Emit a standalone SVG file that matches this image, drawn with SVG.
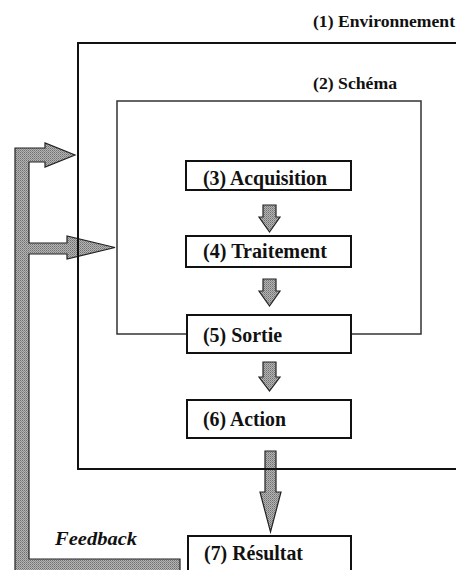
<svg xmlns="http://www.w3.org/2000/svg" width="456" height="570" viewBox="0 0 456 570">
<style>
text{font-family:'Liberation Serif','Times New Roman','DejaVu Serif',serif;font-weight:bold;fill:#111}
.box{fill:#fff;stroke:#111;stroke-width:2}
.arr{fill:url(#dots);stroke:#222;stroke-width:1.2}
</style>
<defs>
<pattern id="dots" width="2" height="2" patternUnits="userSpaceOnUse">
<rect width="2" height="2" fill="#b4b4b4"/>
<rect width="1" height="1" fill="#707070"/>
<rect x="1" y="1" width="1" height="1" fill="#8a8a8a"/>
</pattern>
</defs>
<rect width="456" height="570" fill="#fff"/>
<g id="connectors">
<polygon class="arr" points="15,148 45,148 45,143 75,155 45,167 45,162 29,162 29,243 67,243 67,236 115,247.5 67,259 67,254 29,254 29,559 180,559 180,574 15,574"/>
<polygon class="arr" points="263,205 276,205 276,217 280,217 269.5,232 259,217 263,217"/>
<polygon class="arr" points="263,279 276,279 276,291 280,291 269.5,306 259,291 263,291"/>
<polygon class="arr" points="263,362 276,362 276,377 280,377 269.5,391 259,377 263,377"/>
<polygon class="arr" points="265,451 276,451 276,492 281,492 270.5,532 260,492 265,492"/>
</g>
<g id="environnement">
<rect x="78" y="43" width="390" height="426" fill="none" stroke="#111" stroke-width="2"/>
<text x="313" y="27" font-family="Liberation Serif, serif" font-size="17.5" textLength="142" lengthAdjust="spacingAndGlyphs">(1) Environnement</text>
</g>
<g id="schema">
<rect x="117" y="101" width="304" height="233" fill="none" stroke="#333" stroke-width="1.5"/>
<text x="313" y="89" font-family="Liberation Serif, serif" font-size="17.5" textLength="84" lengthAdjust="spacingAndGlyphs">(2) Schéma</text>
</g>
<g id="acquisition">
<rect class="box" x="186" y="161" width="165" height="29"/>
<text x="203" y="185" font-family="Liberation Serif, serif" font-size="20" textLength="124" lengthAdjust="spacingAndGlyphs">(3) Acquisition</text>
</g>
<g id="traitement">
<rect class="box" x="186" y="236" width="165" height="31"/>
<text x="203" y="258" font-family="Liberation Serif, serif" font-size="20" textLength="124" lengthAdjust="spacingAndGlyphs">(4) Traitement</text>
</g>
<g id="sortie">
<rect class="box" x="187" y="315" width="164" height="38"/>
<text x="203" y="342" font-family="Liberation Serif, serif" font-size="20" textLength="79" lengthAdjust="spacingAndGlyphs">(5) Sortie</text>
</g>
<g id="action">
<rect class="box" x="187" y="400" width="164" height="38"/>
<text x="203" y="426" font-family="Liberation Serif, serif" font-size="20" textLength="83" lengthAdjust="spacingAndGlyphs">(6) Action</text>
</g>
<g id="resultat">
<rect class="box" x="188" y="536" width="163" height="44"/>
<text x="204" y="560" font-family="Liberation Serif, serif" font-size="20" textLength="99" lengthAdjust="spacingAndGlyphs">(7) Résultat</text>
</g>
<g id="feedback">
<text x="55" y="545" font-family="Liberation Serif, serif" font-size="19" font-style="italic" textLength="82" lengthAdjust="spacingAndGlyphs">Feedback</text>
</g>
</svg>
